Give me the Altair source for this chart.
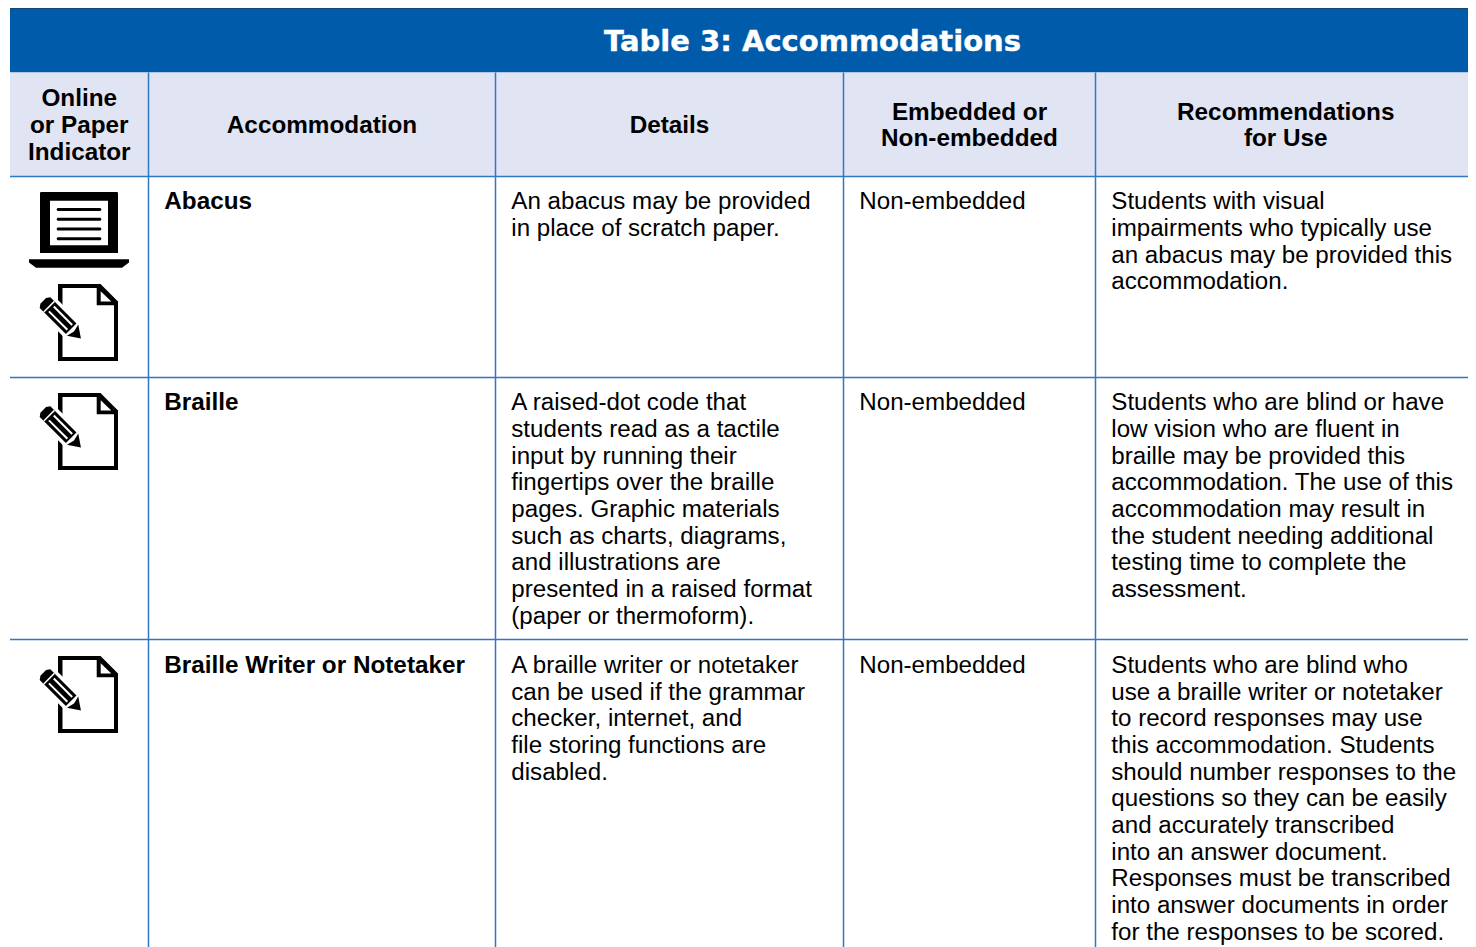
import math
import altair as alt
import pandas as pd

# ---------- content ----------
TITLE = "Table 3: Accommodations"
HEADERS = [
    ["Online", "or Paper", "Indicator"],
    ["Accommodation"],
    ["Details"],
    ["Embedded or", "Non-embedded"],
    ["Recommendations", "for Use"],
]
NAMES = ["Abacus", "Braille", "Braille Writer or Notetaker"]
DETAILS = [
    ["An abacus may be provided", "in place of scratch paper."],
    ["A raised-dot code that", "students read as a tactile", "input by running their",
     "fingertips over the braille", "pages. Graphic materials", "such as charts, diagrams,",
     "and illustrations are", "presented in a raised format", "(paper or thermoform)."],
    ["A braille writer or notetaker", "can be used if the grammar", "checker, internet, and",
     "file storing functions are", "disabled."],
]
EMBEDDED = ["Non-embedded", "Non-embedded", "Non-embedded"]
RECOMMEND = [
    ["Students with visual", "impairments who typically use", "an abacus may be provided this",
     "accommodation."],
    ["Students who are blind or have", "low vision who are fluent in", "braille may be provided this",
     "accommodation. The use of this", "accommodation may result in", "the student needing additional",
     "testing time to complete the", "assessment."],
    ["Students who are blind who", "use a braille writer or notetaker", "to record responses may use",
     "this accommodation. Students", "should number responses to the", "questions so they can be easily",
     "and accurately transcribed", "into an answer document.", "Responses must be transcribed",
     "into answer documents in order", "for the responses to be scored."],
]

# ---------- layout (page pixels) ----------
LEFT, RIGHT, TOP, BOTTOM = 10, 1468, 8, 947
BAND_BOTTOM, HEAD_BOTTOM = 72.5, 176.5
COLS = [10, 148.5, 495.5, 843.5, 1095.5, 1476]
ROW_LINES = [176.5, 377.5, 639.5]
FIRST_BASE = [209.3, 410.3, 673.1]
LEAD = 26.65
PAD = 15.8
HEAD_LEAD = 26.6
HEAD_MID = 133
FS = 24.3
FS_BODY = 24.15
FONT = "Liberation Sans"
BLUE, PALE, LINE = "#005cab", "#e1e4f3", "#2f78c2"

X = alt.X("x:Q", axis=None, scale=alt.Scale(domain=[8, 1468], nice=False, zero=False))
Y = alt.Y("y:Q", axis=None, scale=alt.Scale(domain=[947, 8], nice=False, zero=False))
X2, Y2 = alt.X2("x2:Q"), alt.Y2("y2:Q")

rects = pd.DataFrame([
    dict(x=LEFT, x2=RIGHT, y=TOP, y2=BAND_BOTTOM, c=BLUE),
    dict(x=LEFT, x2=RIGHT, y=BAND_BOTTOM, y2=HEAD_BOTTOM, c=PALE),
])
rect_layer = alt.Chart(rects).mark_rect(strokeWidth=0).encode(
    x=X, x2=X2, y=Y, y2=Y2, color=alt.Color("c:N", scale=None))

top_line = alt.Chart(pd.DataFrame([dict(x=LEFT, x2=RIGHT, y=TOP)])).mark_rule(
    color="#2b2f36", strokeWidth=1).encode(x=X, x2=X2, y=Y)
hlines = alt.Chart(pd.DataFrame([dict(x=LEFT, x2=RIGHT, y=v) for v in ROW_LINES])).mark_rule(
    color=LINE, strokeWidth=1.5).encode(x=X, x2=X2, y=Y)
vlines = alt.Chart(pd.DataFrame([dict(x=v, y=BAND_BOTTOM, y2=BOTTOM) for v in COLS[1:-1]])).mark_rule(
    color=LINE, strokeWidth=1.5).encode(x=X, y=Y, y2=Y2)

# ---------- text ----------
head_rows = []
for i, lines in enumerate(HEADERS):
    centre = (COLS[i] + COLS[i + 1]) / 2
    start = HEAD_MID - HEAD_LEAD * (len(lines) - 1) / 2
    for j, t in enumerate(lines):
        head_rows.append(dict(x=centre, y=start + j * HEAD_LEAD, t=t))
head_text = alt.Chart(pd.DataFrame(head_rows)).mark_text(
    font=FONT, fontSize=FS, fontWeight="bold", align="center", baseline="alphabetic", color="#000000"
).encode(x=X, y=Y, text="t:N")

title_text = alt.Chart(pd.DataFrame([dict(x=812.5, y=51, t=TITLE)])).mark_text(
    font="DejaVu Sans", fontSize=29, fontWeight="bold", align="center", baseline="alphabetic",
    color="#ffffff", stroke="#ffffff", strokeWidth=0.4
).encode(x=X, y=Y, text="t:N")

name_rows = [dict(x=COLS[1] + PAD, y=FIRST_BASE[i], t=n) for i, n in enumerate(NAMES)]
name_text = alt.Chart(pd.DataFrame(name_rows)).mark_text(
    font=FONT, fontSize=FS, fontWeight="bold", align="left", baseline="alphabetic", color="#000000"
).encode(x=X, y=Y, text="t:N")

body_rows = []
for i in range(3):
    for k, lines in ((2, DETAILS[i]), (3, [EMBEDDED[i]]), (4, RECOMMEND[i])):
        for j, t in enumerate(lines):
            body_rows.append(dict(x=COLS[k] + PAD, y=FIRST_BASE[i] + j * LEAD, t=t))
body_text = alt.Chart(pd.DataFrame(body_rows)).mark_text(
    font=FONT, fontSize=FS_BODY, align="left", baseline="alphabetic", color="#000000"
).encode(x=X, y=Y, text="t:N")

# ---------- icons, drawn as custom symbol paths (size=4 gives 1 unit = 1 px) ----------
def poly(points, ox, oy):
    return "M" + "L".join(f"{px - ox:.2f},{py - oy:.2f}" for px, py in points) + "Z"

def icon(paths_colors, anchors):
    layers = []
    frame = pd.DataFrame([dict(x=a, y=b) for a, b in anchors])
    for path, colour in paths_colors:
        layers.append(alt.Chart(frame).mark_point(
            shape=path, filled=True, size=4, opacity=1, color=colour, strokeWidth=0
        ).encode(x=X, y=Y))
    return layers

def pen(u, v, c0=(44.3, 301.9)):
    s = math.sqrt(0.5)
    return (c0[0] + s * u + s * v, c0[1] + s * u - s * v)

AX, AY = 79, 284
paper = [
    (poly([(58, 284), (100.5, 284), (118, 301.5), (118, 361), (58, 361)], AX, AY), "#000000"),
    (poly([(62.5, 288), (96.7, 288), (96.7, 305.3), (114, 305.3), (114, 357), (62.5, 357)], AX, AY), "#ffffff"),
    (poly([(100.7, 291.2), (111.3, 301.6), (100.7, 301.6)], AX, AY), "#ffffff"),
    (poly([pen(-3.5, 11), pen(41, 11), pen(55, 0), pen(41, -11), pen(-3.5, -11)], AX, AY), "#ffffff"),
    (poly([pen(1, 7.5), pen(38, 7.5), pen(38, -7.5), pen(1, -7.5), pen(-1.5, -4), pen(-1.5, 4)], AX, AY), "#000000"),
    (poly([pen(6, 7.5), pen(7.5, 7.5), pen(7.5, -7.5), pen(6, -7.5)], AX, AY), "#ffffff"),
    (poly([pen(10, 4.4), pen(36, 4.4), pen(36, 2.4), pen(10, 2.4)], AX, AY), "#ffffff"),
    (poly([pen(10, -2.4), pen(36, -2.4), pen(36, -4.4), pen(10, -4.4)], AX, AY), "#ffffff"),
    (poly([pen(40, 8), pen(51.8, 0), pen(40, -8), pen(42, 0)], AX, AY), "#000000"),
]
paper_anchors = [(AX, 284), (AX, 393), (AX, 656)]

LX, LY = 79, 230
laptop = [
    (poly([(40.8, 192), (117.2, 192), (118, 192.8), (118, 253), (40, 253), (40, 192.8)], LX, LY), "#000000"),
    (poly([(50, 200.8), (108, 200.8), (108, 245.2), (50, 245.2)], LX, LY), "#ffffff"),
    (poly([(29, 259.3), (129, 259.3), (129, 262.5), (122, 267.7), (36, 267.7), (29, 262.5)], LX, LY), "#000000"),
]
for ly in (209.4, 219.2, 229, 238.8):
    laptop.append((poly([(57.5, ly - 1.5), (100.5, ly - 1.5), (101.5, ly), (100.5, ly + 1.5),
                         (57.5, ly + 1.5), (56.5, ly)], LX, LY), "#000000"))

layers = [rect_layer, top_line, hlines, vlines, title_text, head_text, name_text, body_text]
layers += icon(paper, paper_anchors) + icon(laptop, [(LX, LY)])

chart = alt.layer(*layers).properties(
    width=1460, height=939, padding=0, autosize=alt.AutoSizeParams(type="none"), background="#ffffff"
).configure_view(stroke=None)

chart.save("out.html", embed_options={"renderer": "svg", "actions": False})
